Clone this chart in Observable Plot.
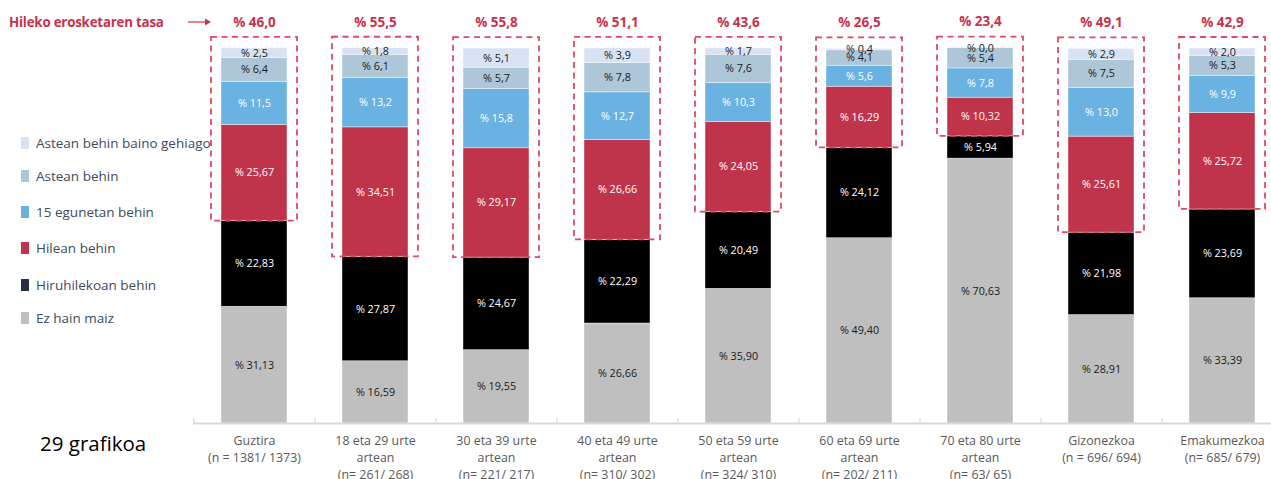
<!DOCTYPE html>
<html><head><meta charset="utf-8">
<script src="https://cdn.jsdelivr.net/npm/d3@7"></script>
<script src="https://cdn.jsdelivr.net/npm/@observablehq/plot@0.6"></script>
<style>
body{margin:0;overflow:hidden;background:#fff;font-family:"Open Sans","Noto Sans",sans-serif;}
#wrap{position:relative;width:1271px;height:479px;overflow:hidden;}
#chart{position:absolute;left:0;top:0;width:1290px;}
#chart svg{max-width:none !important;}
.abs{position:absolute;white-space:nowrap;transform:translateY(-50%);}
.legend-item{left:21px;display:flex;align-items:center;font-size:13.5px;color:#404a5a;}
.sw{width:8px;height:12px;margin-right:7px;flex:none}
#head{left:9px;top:22px;font-weight:bold;font-size:13.3px;color:#c8324b;letter-spacing:-0.2px;}
#arrow{left:188px;top:22px;line-height:0;}
#fig{left:40px;top:443px;font-size:20.5px;color:#000;}
</style></head>
<body><div id="wrap"><div id="chart"></div></div>
<script>
const categories = ["Guztira","18 eta 29 urte artean","30 eta 39 urte artean","40 eta 49 urte artean","50 eta 59 urte artean","60 eta 69 urte artean","70 eta 80 urte artean","Gizonezkoa","Emakumezkoa"];
const categoryLabels = ["Guztira\n(n = 1381/ 1373)","18 eta 29 urte\nartean\n(n= 261/ 268)","30 eta 39 urte\nartean\n(n= 221/ 217)","40 eta 49 urte\nartean\n(n= 310/ 302)","50 eta 59 urte\nartean\n(n= 324/ 310)","60 eta 69 urte\nartean\n(n= 202/ 211)","70 eta 80 urte\nartean\n(n= 63/ 65)","Gizonezkoa\n(n = 696/ 694)","Emakumezkoa\n(n= 685/ 679)"];
const series = ["Ez hain maiz","Hiruhilekoan behin","Hilean behin","15 egunetan behin","Astean behin","Astean behin baino gehiago"];
const colors = ["#bfbfbf","#000000","#c0344b","#69b2e1","#adc6d8","#d7e3f3"];
const legendColors = ["#bfbfbf","#262f42","#c0344b","#69b2e1","#adc6d8","#d7e3f3"];
const ezHainMaiz = [31.13,16.59,19.55,26.66,35.90,49.40,70.63,28.91,33.39];
const hiruhilekoan = [22.83,27.87,24.67,22.29,20.49,24.12,5.94,21.98,23.69];
const hilean = [25.67,34.51,29.17,26.66,24.05,16.29,10.32,25.61,25.72];
const egun15 = [11.5,13.2,15.8,12.7,10.3,5.6,7.8,13.0,9.9];
const astean = [6.4,6.1,5.7,7.8,7.6,4.1,5.4,7.5,5.3];
const asteanGehiago = [2.5,1.8,5.1,3.9,1.7,0.4,0.0,2.9,2.0];
const rate = [46.0,55.5,55.8,51.1,43.6,26.5,23.4,49.1,42.9];
const seriesValues = [ezHainMaiz,hiruhilekoan,hilean,egun15,astean,asteanGehiago];
const seriesDecimals = [2,2,2,1,1,1];
const whiteText = new Set(["Hiruhilekoan behin","Hilean behin","15 egunetan behin"]);

const fmt = (v,dec) => "% " + v.toFixed(dec).replace(".", ",");
const long = [];
categories.forEach((c,i) => series.forEach((s,j) => long.push({cat:c, series:s, value:seriesValues[j][i], dec:seriesDecimals[j]})));
const rateData = categories.map((c,i) => ({
  cat:c, rate:rate[i],
  base: ezHainMaiz[i] + hiruhilekoan[i],
  top: seriesValues.reduce((a,arr)=>a+arr[i],0)
}));
const labelData = categories.map((c,i)=>({cat:c, label:categoryLabels[i]}));

const red = "#c8324b";
const chart = Plot.plot({
  width:1290, height:479,
  marginLeft:193, marginRight:8, marginTop:48, marginBottom:56,
  style:{fontFamily:'"Open Sans","Noto Sans",sans-serif', background:"transparent", maxWidth:"none"},
  x:{domain:categories, paddingInner:0.455, paddingOuter:0.2275, axis:null},
  y:{domain:[0,100], axis:null},
  color:{domain:series, range:colors},
  marks:[
    Plot.barY(long, {x:"cat", y:"value", z:"series", fill:"series", stroke:"#ffffff", strokeWidth:0.6, strokeOpacity:0.7}),
    Plot.text(long, Plot.stackY({x:"cat", y:"value", z:"series", text:d=>fmt(d.value,d.dec), fill:d=>whiteText.has(d.series)?"#ffffff":"#1a1a1a", fontSize:10.8})),
    Plot.barY(rateData, {x:"cat", y1:"base", y2:"top", fill:"none", stroke:"#dc4a63", strokeWidth:1.8, strokeDasharray:"6,4.5", insetLeft:-10, insetRight:-10, insetTop:-11}),
    Plot.text(rateData, {x:"cat", y:"top", dy:-26, text:d=>fmt(d.rate,1), fill:red, fontWeight:"bold", fontSize:13.5}),
    Plot.ruleY([0], {stroke:"#d9d9d9", strokeWidth:2}),
    Plot.ruleX(categories, {x:d=>d, dx:-60.5, y1:0, y2:1.35, stroke:"#d0d0d0"}),
    Plot.text(labelData, {x:"cat", y:0, text:"label", dy:10, lineAnchor:"top", lineHeight:1.36, fontSize:12.4, fill:"#595959"})
  ]
});
document.getElementById("chart").appendChild(chart);

const wrap = document.getElementById("wrap");
const legendY = [143,176,212,248,285,318];
const legendOrder = [5,4,3,2,1,0];
legendOrder.forEach((j,k) => {
  const it = document.createElement("div");
  it.className = "abs legend-item";
  it.style.top = legendY[k] + "px";
  it.innerHTML = `<span class="sw" style="background:${legendColors[j]}"></span><span>${series[j]}</span>`;
  wrap.appendChild(it);
});
const head = document.createElement("div"); head.id="head"; head.className="abs"; head.textContent="Hileko erosketaren tasa"; wrap.appendChild(head);
const arrow = document.createElement("div"); arrow.id="arrow"; arrow.className="abs";
arrow.innerHTML = `<svg width="24" height="10" viewBox="0 0 24 10"><line x1="0" y1="5" x2="18" y2="5" stroke="${red}" stroke-width="1.2"/><path d="M17,1.5 L23,5 L17,8.5 Z" fill="${red}"/></svg>`;
wrap.appendChild(arrow);
const fig = document.createElement("div"); fig.id="fig"; fig.className="abs"; fig.textContent="29 grafikoa"; wrap.appendChild(fig);
</script></body></html>
